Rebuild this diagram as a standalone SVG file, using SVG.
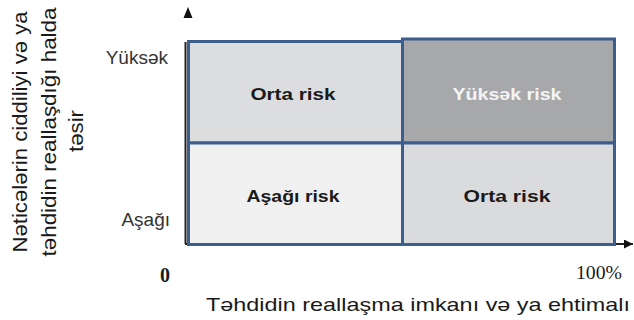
<svg xmlns="http://www.w3.org/2000/svg" width="634" height="320" viewBox="0 0 634 320">
<style>
.cell{stroke:#3b5e8c;stroke-width:3}
.ct{font-family:"Liberation Sans",Arial,sans-serif;font-weight:bold;font-size:17px;text-anchor:middle;fill:#1a1a1a}
.lab{font-family:"Liberation Sans",Arial,sans-serif;font-size:19px;fill:#333}
.ax{font-family:"Liberation Sans",Arial,sans-serif;font-size:21px;fill:#1a1a1a;text-anchor:middle}
.num{font-family:"Liberation Serif","Times New Roman",serif;fill:#1a1a1a}
.axis{stroke:#222;stroke-width:2;fill:none}
</style>
<defs>
<marker id="arr" viewBox="0 0 10 10" refX="10" refY="5" markerWidth="9" markerHeight="9" markerUnits="userSpaceOnUse" orient="auto">
<path d="M0,0 L10,5 L0,10 z" fill="#111"/>
</marker>
</defs>
<rect width="634" height="320" fill="#fff"/>
<g id="connectors">
<line class="axis" x1="185.5" y1="244" x2="185.5" y2="42"/>
<line class="axis" x1="185" y1="244" x2="633" y2="244" marker-end="url(#arr)"/>
<polygon points="188,7 192.5,18 183.5,18" fill="#111"/>
</g>
<g id="cell-top-left">
<rect class="cell" x="188.5" y="41.5" width="214" height="101.5" fill="#dcdddf"/>
<text class="ct" x="293" y="100" textLength="85" lengthAdjust="spacingAndGlyphs">Orta risk</text>
</g>
<g id="cell-top-right">
<rect class="cell" x="402.5" y="39" width="212" height="104" fill="#a7a8aa"/>
<text class="ct" x="507" y="100" style="fill:#f4f4f4" textLength="109" lengthAdjust="spacingAndGlyphs">Yüksək risk</text>
</g>
<g id="cell-bottom-left">
<rect class="cell" x="188.5" y="143" width="214" height="101.5" fill="#f0f0f0"/>
<text class="ct" x="293" y="202" textLength="93" lengthAdjust="spacingAndGlyphs">Aşağı risk</text>
</g>
<g id="cell-bottom-right">
<rect class="cell" x="402.5" y="143" width="212" height="101.5" fill="#dadbdd"/>
<text class="ct" x="507" y="202" textLength="87" lengthAdjust="spacingAndGlyphs">Orta risk</text>
</g>
<g id="axis-labels">
<text class="lab" x="168" y="64" text-anchor="end">Yüksək</text>
<text class="lab" x="170" y="226" text-anchor="end">Aşağı</text>
<text class="num" x="165" y="282" font-size="20" font-weight="bold" text-anchor="middle">0</text>
<text class="num" x="622" y="279" font-size="18" text-anchor="end" textLength="46" lengthAdjust="spacingAndGlyphs">100%</text>
<text class="lab" x="418" y="311" style="fill:#1a1a1a;font-size:19px" text-anchor="middle" textLength="424" lengthAdjust="spacingAndGlyphs">Təhdidin reallaşma imkanı və ya ehtimalı</text>
<text class="ax" transform="translate(27,132) rotate(-90)" textLength="241" lengthAdjust="spacingAndGlyphs">Nəticələrin ciddiliyi və ya</text>
<text class="ax" transform="translate(56,132) rotate(-90)" textLength="249" lengthAdjust="spacingAndGlyphs">təhdidin reallaşdığı halda</text>
<text class="ax" transform="translate(83,131) rotate(-90)" textLength="42" lengthAdjust="spacingAndGlyphs">təsir</text>
</g>
</svg>
